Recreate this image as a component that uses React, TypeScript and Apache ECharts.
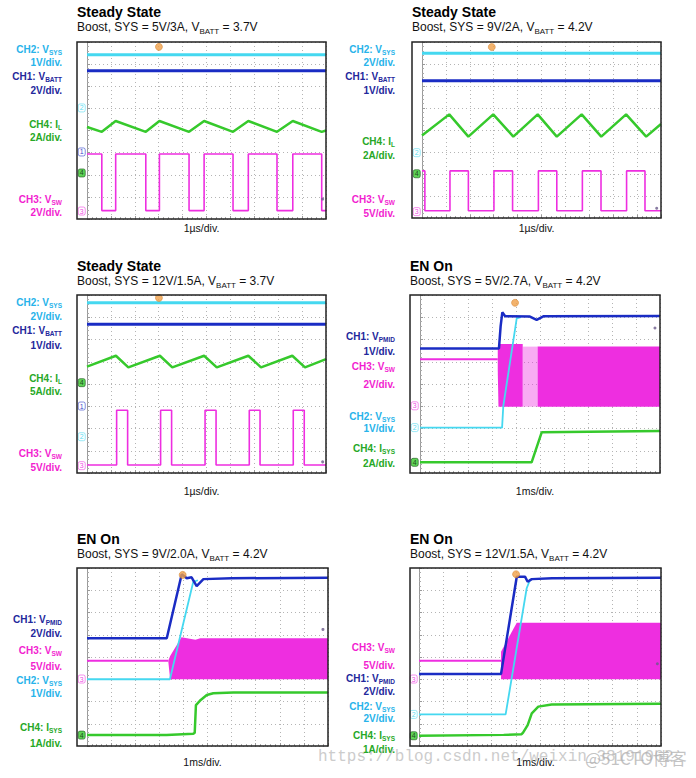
import React, { useEffect, useRef } from "react";
import * as echarts from "echarts";

type Pt = [number, number];
type Env = [number, number, number][];

const FONT = "'Liberation Sans', Arial, sans-serif";
const CYAN = "#45d8f0";
const BLUE = "#1a2cc4";
const GREEN = "#36c92c";
const MAG = "#ee2ee0";
const CYAN_L = "#27b3ea";
const BLUE_L = "#23279c";
const GREEN_L = "#26a826";
const MAG_L = "#f21ed0";

// ---------- texts ----------
const titles = ["Steady State", "Steady State", "Steady State", "EN On", "EN On", "EN On"];
const subtitles = [
  "Boost, SYS = 5V/3A, V_{BATT} = 3.7V",
  "Boost, SYS = 9V/2A, V_{BATT} = 4.2V",
  "Boost, SYS = 12V/1.5A, V_{BATT} = 3.7V",
  "Boost, SYS = 5V/2.7A, V_{BATT} = 4.2V",
  "Boost, SYS = 9V/2.0A, V_{BATT} = 4.2V",
  "Boost, SYS = 12V/1.5A, V_{BATT} = 4.2V",
];
const xLabels = ["1µs/div.", "1µs/div.", "1µs/div.", "1ms/div.", "1ms/div.", "1ms/div."];

// channel labels: [text, colour, y]
const p1Labels: [string, string, number][] = [
  ["CH2: V_{SYS}", CYAN_L, 49.3], ["1V/div.", CYAN_L, 62], ["CH1: V_{BATT}", BLUE_L, 76], ["2V/div.", BLUE_L, 90],
  ["CH4: I_{L}", GREEN_L, 124.3], ["2A/div.", GREEN_L, 137.7], ["CH3: V_{SW}", MAG_L, 199.3], ["2V/div.", MAG_L, 212.7],
];
const p2Labels: [string, string, number][] = [
  ["CH2: V_{SYS}", CYAN_L, 49.3], ["2V/div.", CYAN_L, 62], ["CH1: V_{BATT}", BLUE_L, 76], ["1V/div.", BLUE_L, 90],
  ["CH4: I_{L}", GREEN_L, 141.7], ["2A/div.", GREEN_L, 155], ["CH3: V_{SW}", MAG_L, 199.3], ["5V/div.", MAG_L, 213.3],
];
const p3Labels: [string, string, number][] = [
  ["CH2: V_{SYS}", CYAN_L, 302.7], ["2V/div.", CYAN_L, 316.7], ["CH1: V_{BATT}", BLUE_L, 330], ["1V/div.", BLUE_L, 345],
  ["CH4: I_{L}", GREEN_L, 378.3], ["5A/div.", GREEN_L, 391.7], ["CH3: V_{SW}", MAG_L, 453.3], ["5V/div.", MAG_L, 467.3],
];
const p4Labels: [string, string, number][] = [
  ["CH1: V_{PMID}", BLUE_L, 336.7], ["1V/div.", BLUE_L, 351.7], ["CH3: V_{SW}", MAG_L, 366.7], ["2V/div.", MAG_L, 384.3],
  ["CH2: V_{SYS}", CYAN_L, 416.7], ["1V/div.", CYAN_L, 428.3], ["CH4: I_{SYS}", GREEN_L, 448.3], ["2A/div.", GREEN_L, 463.3],
];
const p5Labels: [string, string, number][] = [
  ["CH1: V_{PMID}", BLUE_L, 619.3], ["2V/div.", BLUE_L, 633.3], ["CH3: V_{SW}", MAG_L, 650], ["5V/div.", MAG_L, 666.7],
  ["CH2: V_{SYS}", CYAN_L, 680.7], ["1V/div.", CYAN_L, 693.3], ["CH4: I_{SYS}", GREEN_L, 727.7], ["1A/div.", GREEN_L, 743.3],
];
const p6Labels: [string, string, number][] = [
  ["CH3: V_{SW}", MAG_L, 647.7], ["5V/div.", MAG_L, 665], ["CH1: V_{PMID}", BLUE_L, 678.3], ["2V/div.", BLUE_L, 691.7],
  ["CH2: V_{SYS}", CYAN_L, 706.7], ["2V/div.", CYAN_L, 718.3], ["CH4: I_{SYS}", GREEN_L, 735], ["1A/div.", GREEN_L, 749],
];

// ---------- traces (x in divisions 0..10, y in divisions 0..8) ----------
// Panel 1
const p1Vsys: Pt[] = [[0, 7.42], [10, 7.42]];
const p1Vbatt: Pt[] = [[0, 6.7], [10, 6.7]];
const p1Il: Pt[] = [[0, 4.16], [0.62, 3.94], [1.2, 4.43], [2.46, 3.94], [3.03, 4.43], [4.27, 3.94], [4.9, 4.43], [6.11, 3.94], [6.75, 4.43], [7.95, 3.94], [8.61, 4.43], [9.82, 3.94], [10, 4.0]];
const p1Vsw: Pt[] = [[0, 2.94], [0.62, 0.38], [1.2, 2.94], [2.46, 0.38], [3.03, 2.94], [4.27, 0.38], [4.9, 2.94], [6.11, 0.38], [6.75, 2.94], [7.95, 0.38], [8.61, 2.94], [9.82, 0.38], [10, 0.38]];
const p1Marks: [string, number][] = [["2", 5.02], ["1", 3.03], ["4", 2.08], ["3", 0.36]];
const p1Trig: Pt = [3.01, 7.78];
const p1Level: Pt = [9.86, 0.9];

// Panel 2
const p2Vsys: Pt[] = [[0, 7.49], [10, 7.49]];
const p2Vbatt: Pt[] = [[0, 6.24], [10, 6.24]];
const p2Il: Pt[] = [[0, 3.75], [1.14, 4.71], [1.94, 3.7], [2.98, 4.71], [3.82, 3.7], [4.84, 4.71], [5.64, 3.7], [6.68, 4.71], [7.5, 3.7], [8.54, 4.71], [9.38, 3.7], [10, 4.27]];
const p2Vsw: Pt[] = [[0, 2.14], [0.12, 0.33], [1.17, 2.14], [1.94, 0.33], [3.01, 2.14], [3.79, 0.33], [4.87, 2.14], [5.64, 0.33], [6.71, 2.14], [7.49, 0.33], [8.56, 2.14], [9.33, 0.33], [10, 0.33]];
const p2Marks: [string, number][] = [["2", 2.97], ["4", 2.01], ["3", 0.29]];
const p2Trig: Pt = [2.92, 7.77];
const p2Level: Pt = [9.82, 0.44];

// Panel 3
const p3Vsys: Pt[] = [[0, 7.65], [10, 7.65]];
const p3Vbatt: Pt[] = [[0, 6.68], [10, 6.68]];
const p3Il: Pt[] = [[0, 4.78], [1.21, 5.27], [1.73, 4.75], [3.05, 5.27], [3.57, 4.75], [4.9, 5.27], [5.43, 4.75], [6.75, 5.27], [7.28, 4.75], [8.59, 5.27], [9.12, 4.75], [10, 5.12]];
const p3Vsw: Pt[] = [[0, 0.36], [1.24, 2.82], [1.7, 0.36], [3.08, 2.82], [3.54, 0.36], [4.94, 2.82], [5.4, 0.36], [6.79, 2.82], [7.24, 0.36], [8.63, 2.82], [9.09, 0.36], [10, 0.36]];
const p3Marks: [string, number][] = [["4", 4.06], ["1", 3.01], ["2", 1.63], ["3", 0.33]];
const p3Trig: Pt = [3.01, 7.87];
const p3Level: Pt = [9.86, 0.5];

// Panel 4
const p4Vpmid: Pt[] = [[0, 5.6], [3.29, 5.6], [3.36, 6.6], [3.43, 7.22], [3.55, 7.05], [4.58, 7.03], [4.86, 6.88], [5.14, 7.04], [10, 7.06]];
const p4Vsys: Pt[] = [[0, 2.04], [3.42, 2.04], [3.47, 3.0], [4.03, 6.95], [4.2, 7.0]];
const p4VswFlat: Pt[] = [[0, 5.11], [3.24, 5.11]];
const p4Isys: Pt[] = [[0, 0.48], [4.65, 0.48], [5.07, 1.83], [10, 1.89]];
const p4Burst: Env[] = [
  [[3.24, 4.6, 5.5], [3.27, 2.98, 5.8], [4.28, 2.98, 5.8]],
  [[4.9, 2.98, 5.68], [10, 2.98, 5.68]],
];
const p4BurstFaint: Env[] = [[[4.28, 2.98, 5.68], [4.9, 2.98, 5.68]]];
const p4Marks: [string, number][] = [["3", 3.02], ["2", 2.04], ["4", 0.48]];
const p4Trig: Pt = [3.96, 7.65];
const p4Level: Pt = [9.79, 6.52];

// Panel 5
const p5Vpmid: Pt[] = [[0, 4.84], [3.31, 4.84], [3.93, 7.72], [4.14, 7.54], [4.34, 7.58], [4.55, 7.19], [4.83, 7.5], [6, 7.54], [10, 7.56]];
const p5Vsys: Pt[] = [[0, 3.0], [3.44, 3.0], [4.41, 7.38], [4.6, 7.45]];
const p5VswFlat: Pt[] = [[0, 3.83], [3.37, 3.83]];
const p5Isys: Pt[] = [[0, 0.49], [3.3, 0.49], [4.41, 0.55], [4.47, 0.6], [4.52, 1.84], [4.72, 2.07], [4.97, 2.29], [5.24, 2.37], [6.07, 2.41], [10, 2.41]];
const p5Burst: Env[] = [[[3.37, 3.83, 3.83], [3.45, 3.0, 4.05], [3.92, 3.0, 4.89], [4.5, 3.0, 4.78], [4.7, 3.0, 4.84], [10, 3.0, 4.84]]];
const p5Marks: [string, number][] = [["3", 3.01], ["4", 0.49]];
const p5Trig: Pt = [3.97, 7.69];
const p5Level: Pt = [9.79, 5.24];

// Panel 6
const p6Vpmid: Pt[] = [[0, 3.24], [3.39, 3.24], [4.04, 7.61], [4.38, 7.61], [4.49, 7.38], [4.66, 7.5], [5.5, 7.54], [10, 7.56]];
const p6Vsys: Pt[] = [[0, 1.42], [3.58, 1.42], [4.45, 7.09], [4.6, 7.5]];
const p6VswFlat: Pt[] = [[0, 3.83], [3.39, 3.83]];
const p6Isys: Pt[] = [[0, 0.46], [3.5, 0.5], [4.24, 0.53], [4.3, 0.6], [4.49, 0.94], [4.66, 1.47], [4.93, 1.77], [5.48, 1.87], [10, 1.9]];
const p6Burst: Env[] = [[[3.39, 3.0, 4.24], [4.04, 3.0, 5.54], [10, 3.0, 5.54]]];
const p6Marks: [string, number][] = [["3", 3.01], ["2", 1.42], ["4", 0.46]];
const p6Trig: Pt = [4.01, 7.72];
const p6Level: Pt = [9.85, 3.7];

type Trace = { d: Pt[]; c: string; w: number; step?: boolean };
type Panel = {
  box: [number, number, number, number];
  inner: number;
  labelX: number;
  labels: [string, string, number][];
  bands: Env[];
  faint: Env[];
  traces: Trace[];
  marks: [string, number][];
  trig: Pt;
  level: Pt;
};

const panels: Panel[] = [
  {
    box: [77, 42, 326, 219], inner: 87, labelX: 62, labels: p1Labels, bands: [], faint: [],
    traces: [{ d: p1Vsw, c: MAG, w: 1.6, step: true }, { d: p1Il, c: GREEN, w: 2.5 }, { d: p1Vsys, c: CYAN, w: 3 }, { d: p1Vbatt, c: BLUE, w: 3 }],
    marks: p1Marks, trig: p1Trig, level: p1Level,
  },
  {
    box: [412, 42, 661, 218], inner: 422, labelX: 395, labels: p2Labels, bands: [], faint: [],
    traces: [{ d: p2Vsw, c: MAG, w: 1.6, step: true }, { d: p2Il, c: GREEN, w: 2.5 }, { d: p2Vsys, c: CYAN, w: 3 }, { d: p2Vbatt, c: BLUE, w: 3 }],
    marks: p2Marks, trig: p2Trig, level: p2Level,
  },
  {
    box: [77, 295, 326, 473], inner: 87, labelX: 62, labels: p3Labels, bands: [], faint: [],
    traces: [{ d: p3Vsw, c: MAG, w: 1.6, step: true }, { d: p3Il, c: GREEN, w: 2.5 }, { d: p3Vsys, c: CYAN, w: 3 }, { d: p3Vbatt, c: BLUE, w: 3 }],
    marks: p3Marks, trig: p3Trig, level: p3Level,
  },
  {
    box: [410, 295, 660, 473], inner: 420, labelX: 395, labels: p4Labels, bands: p4Burst, faint: p4BurstFaint,
    traces: [{ d: p4VswFlat, c: MAG, w: 2 }, { d: p4Isys, c: GREEN, w: 2.5 }, { d: p4Vsys, c: CYAN, w: 1.8 }, { d: p4Vpmid, c: BLUE, w: 2.5 }],
    marks: p4Marks, trig: p4Trig, level: p4Level,
  },
  {
    box: [77, 568, 328, 746], inner: 87, labelX: 62, labels: p5Labels, bands: p5Burst, faint: [],
    traces: [{ d: p5VswFlat, c: MAG, w: 2 }, { d: p5Isys, c: GREEN, w: 2.5 }, { d: p5Vsys, c: CYAN, w: 1.8 }, { d: p5Vpmid, c: BLUE, w: 2.5 }],
    marks: p5Marks, trig: p5Trig, level: p5Level,
  },
  {
    box: [410, 568, 661, 746], inner: 419, labelX: 395, labels: p6Labels, bands: p6Burst, faint: [],
    traces: [{ d: p6VswFlat, c: MAG, w: 2 }, { d: p6Isys, c: GREEN, w: 2.5 }, { d: p6Vsys, c: CYAN, w: 1.8 }, { d: p6Vpmid, c: BLUE, w: 2.5 }],
    marks: p6Marks, trig: p6Trig, level: p6Level,
  },
];

const titleY = [12, 12, 266, 266, 539, 539];
const subY = [27, 27, 281, 281, 554, 554];
const xLabelY = [228, 228, 491, 491, 762, 762];

const CH_COLOR: Record<string, string> = { "1": BLUE, "2": CYAN, "3": MAG, "4": GREEN };

const toRich = (s: string) => "{n|" + s.replace(/_\{([^}]*)\}/g, "}{s|$1}{n|") + "}";

function richText(x: number, y: number, text: string, color: string, size: number, subSize: number, bold: boolean, align: string) {
  const lh = Math.round(size * 1.3);
  return {
    type: "text",
    x,
    y,
    z: 50,
    style: {
      text: toRich(text),
      align,
      verticalAlign: "middle",
      rich: {
        n: { fontSize: size, fontWeight: bold ? "bold" : "normal", fill: color, color, fontFamily: FONT, lineHeight: lh, verticalAlign: "middle" },
        s: { fontSize: subSize, fontWeight: bold ? "bold" : "normal", fill: color, color, fontFamily: FONT, lineHeight: lh, verticalAlign: "bottom" },
      },
    },
  };
}

function bandSeries(env: Env, i: number, opacity: number) {
  return {
    type: "custom",
    xAxisIndex: i,
    yAxisIndex: i,
    silent: true,
    z: 2,
    data: [[env[0][0], env[0][1]]],
    renderItem: (_p: any, api: any) => {
      const top = env.map((p) => api.coord([p[0], p[2]]));
      const bot = env.slice().reverse().map((p) => api.coord([p[0], p[1]]));
      return { type: "polygon", shape: { points: top.concat(bot) }, style: { fill: MAG, opacity } };
    },
  };
}

function buildOption() {
  const grid: any[] = [];
  const xAxis: any[] = [];
  const yAxis: any[] = [];
  const series: any[] = [];
  const graphic: any[] = [];

  panels.forEach((p, i) => {
    const [bl, bt, br, bb] = p.box;
    grid.push({ left: p.inner, top: bt, width: br - p.inner, height: bb - bt, show: false, containLabel: false });
    const split = { show: true, lineStyle: { color: "#b4b4b4", type: [1, 3], width: 1 } };
    xAxis.push({
      type: "value", gridIndex: i, min: 0, max: 10, interval: 1,
      axisLabel: { show: false }, axisLine: { show: false },
      axisTick: { show: true, inside: true, length: 3, lineStyle: { color: "#999" } },
      minorTick: { show: true, splitNumber: 5, length: 2, lineStyle: { color: "#aaa" } },
      splitLine: split,
    });
    yAxis.push({
      type: "value", gridIndex: i, min: 0, max: 8, interval: 1,
      axisLabel: { show: false }, axisLine: { show: true, lineStyle: { color: "#9a9a9a", width: 1 } },
      axisTick: { show: true, inside: true, length: 3, lineStyle: { color: "#999" } },
      minorTick: { show: true, splitNumber: 5, length: 2, lineStyle: { color: "#aaa" } },
      splitLine: split,
    });

    p.faint.forEach((e) => series.push(bandSeries(e, i, 0.4)));
    p.bands.forEach((e) => series.push(bandSeries(e, i, 1)));
    p.traces.forEach((t, k) => {
      series.push({
        type: "line", xAxisIndex: i, yAxisIndex: i, data: t.d, step: t.step ? "end" : false,
        symbol: "none", showSymbol: false, silent: true, z: 3 + k,
        lineStyle: { color: t.c, width: t.w },
      });
    });
    // channel reference markers on the left band
    series.push({
      type: "scatter", xAxisIndex: i, yAxisIndex: i, clip: false, silent: true, z: 20,
      symbol: "roundRect", symbolSize: [7, 8],
      data: p.marks.map(([ch, y]) => ({
        value: [-0.22, y],
        itemStyle: ch === "4" ? { color: GREEN, borderColor: "#1d5a1d", borderWidth: 0.8 } : { color: "#ffffff", borderColor: CH_COLOR[ch], borderWidth: 0.6, opacity: 0.9 },
        label: { show: true, position: "inside", formatter: ch, fontSize: 7, fontFamily: FONT, color: ch === "4" ? "#0d2a0d" : CH_COLOR[ch] },
      })),
    });
    // trigger position and level markers
    series.push({
      type: "scatter", xAxisIndex: i, yAxisIndex: i, clip: false, silent: true, z: 21,
      data: [
        { value: p.trig, symbol: "circle", symbolSize: 7, itemStyle: { color: "#f0a048", borderColor: "#d07a20", borderWidth: 0.6 } },
        { value: p.level, symbol: "circle", symbolSize: 3, itemStyle: { color: "#6a5a8a" } },
      ],
    });

    // border box
    graphic.push({
      type: "rect", z: 40, silent: true,
      shape: { x: bl, y: bt, width: br - bl, height: bb - bt },
      style: { fill: "none", stroke: "#222", lineWidth: 1.5 },
    });
    // titles
    graphic.push({ type: "text", x: bl, y: titleY[i], z: 50, style: { text: titles[i], fontSize: 14, fontWeight: "bold", fill: "#000", fontFamily: FONT, verticalAlign: "middle" } });
    graphic.push(richText(bl, subY[i], subtitles[i], "#111", 12, 8, false, "left"));
    graphic.push({ type: "text", x: (bl + br) / 2, y: xLabelY[i], z: 50, style: { text: xLabels[i], fontSize: 10.5, fill: "#111", fontFamily: FONT, align: "center", verticalAlign: "middle" } });
    p.labels.forEach(([t, c, y]) => graphic.push(richText(p.labelX, y, t, c, 10, 6.5, true, "right")));
  });

  // watermark
  graphic.push({ type: "text", x: 318, y: 757, z: 60, silent: true, style: { text: "https://blog.csdn.net/weixin_38191962", fontSize: 16, fontFamily: "'Liberation Mono', monospace", fill: "rgba(190,190,190,0.8)", verticalAlign: "middle" } });
  graphic.push({ type: "text", x: 585, y: 757, z: 61, silent: true, style: { text: "@51CTO博客", fontSize: 17, fontFamily: "'Noto Sans CJK SC', sans-serif", fill: "rgba(175,175,175,0.75)", verticalAlign: "middle" } });

  return { animation: false, backgroundColor: "#ffffff", grid, xAxis, yAxis, series, graphic };
}

export default function App() {
  const ref = useRef<HTMLDivElement>(null);
  useEffect(() => {
    if (!ref.current) return;
    const chart = echarts.init(ref.current, undefined, { renderer: "svg" });
    chart.setOption(buildOption() as any);
    return () => chart.dispose();
  }, []);
  return <div ref={ref} style={{ position: "absolute", left: 0, top: 0, width: 696, height: 778 }} />;
}
